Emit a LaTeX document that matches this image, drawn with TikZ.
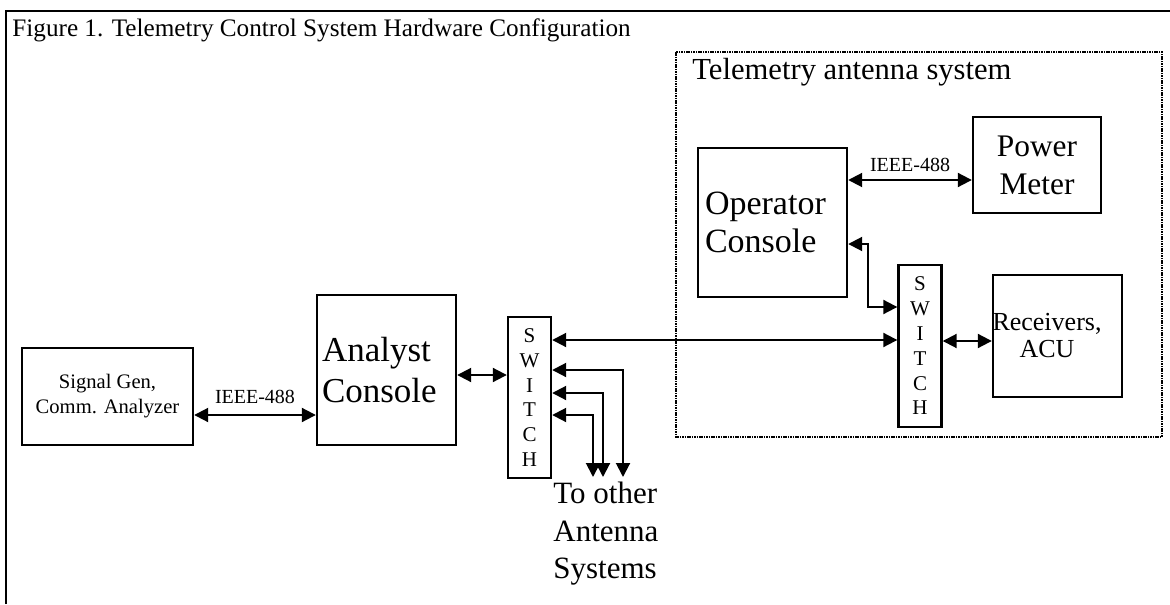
\documentclass[tikz,border=0pt]{standalone}
\usepackage{fontspec}
\setmainfont{Liberation Serif}
\usetikzlibrary{arrows.meta, positioning}

\tikzset{
  hwbox/.style={draw, line width=1.2pt, inner sep=0pt},
  swbox/.style={draw, line width=1.2pt, minimum width=21.5pt, inner sep=0pt, align=center, font=\fontsize{10.5}{12.4}\selectfont},
  link/.style={<->, line width=1pt},
  busname/.style={font=\fontsize{10}{12}\selectfont, inner sep=0pt},
}

\begin{document}
\begin{tikzpicture}[x=0.5pt, y=-0.5pt, >={Triangle[length=7pt,width=7pt]}]
                    \useasboundingbox (0,0) rectangle (1170,604);
                    % Frame and title
                    \draw[line width=1.2pt] (6,604) -- (6,11) -- (1170,11);
                    \node[anchor=base west, inner sep=0pt, font=\fontsize{12.6}{15}\selectfont] (title) at (12,37) {Figure 1. Telemetry Control System Hardware Configuration};
                    % Antenna system frame
                    \draw[line width=1.4pt, dash pattern=on 0.8pt off 0.4pt] (676,52) rectangle (1162,437);
                    \node[anchor=base west, inner sep=0pt, font=\fontsize{15.3}{18}\selectfont] (sys) at (692,80) {Telemetry antenna system};
                    % Boxes
                    \node[hwbox, minimum width=85.5pt, minimum height=48.5pt, align=center, font=\fontsize{10.3}{12.5}\selectfont] (sig) at (107.5,396.5) {Signal Gen,\\Comm. Analyzer};
                    \node[hwbox, minimum width=69.5pt, minimum height=75pt, text width=64.5pt, inner xsep=2.5pt, align=left, font=\fontsize{17.5}{20.5}\selectfont] (ana) at (386.5,370) {Analyst\\Console};
                    \node[hwbox, minimum width=74.5pt, minimum height=74.5pt, text width=67.5pt, inner xsep=3.5pt, align=left, font=\fontsize{17}{19}\selectfont] (op) at (772.5,222.5) {Operator\\Console};
                    \node[hwbox, minimum width=64pt, minimum height=48pt, align=center, font=\fontsize{15.7}{19}\selectfont] (pm) at (1037,165) {Power\\Meter};
                    \node[hwbox, minimum width=64.5pt, minimum height=61pt] (rcv) at (1057.5,336) {};
                    \node[align=center, inner sep=0pt, font=\fontsize{13}{13.5}\selectfont] (rcvtext) at (1047,336) {Receivers,\\ACU};
                    % Switches
                    \node[swbox, minimum height=80.5pt] (sw1) at (529.5,397.5) {S\\W\\I\\T\\C\\H};
                    \node[swbox, minimum height=81pt] (sw2) at (920,346) {S\\W\\I\\T\\C\\H};
                    % Ends towards other antenna systems
                    \coordinate (out1) at (623,477);
                    \coordinate (out2) at (603,477);
                    \coordinate (out3) at (593,477);
                    % Links
                    \draw[link] ([yshift=-9.25pt]sig.east) -- ([yshift=-22.5pt]ana.west) node[busname, midway, above=5pt] {IEEE-488};
                    \draw[link] ([yshift=-2.5pt]ana.east) -- ([yshift=11.25pt]sw1.west);
                    \draw[link] ([yshift=28.75pt]sw1.east) -- ([yshift=3pt]sw2.west);
                    \draw[link] ([yshift=13.75pt]sw1.east) -| (out1);
                    \draw[link] ([yshift=2.25pt]sw1.east) -| (out2);
                    \draw[link] ([yshift=-8.75pt]sw1.east) -| (out3);
                    \draw[link] ([yshift=21.25pt]op.east) -- ([yshift=-7.5pt]pm.west) node[busname, midway, above=3.5pt] {IEEE-488};
                    \draw[link] ([yshift=-10.75pt]op.east) -- ++(20,0) |- ([yshift=19.5pt]sw2.west);
                    \draw[link] ([yshift=2.5pt]sw2.east) -- ([yshift=-2.5pt]rcv.west);
                    % Label below the switch
                    \node[anchor=north west, align=left, inner sep=2pt, font=\fontsize{15.5}{18.75}\selectfont] (other) at (549,478) {To other\\Antenna\\Systems};
\end{tikzpicture}
\end{document}
